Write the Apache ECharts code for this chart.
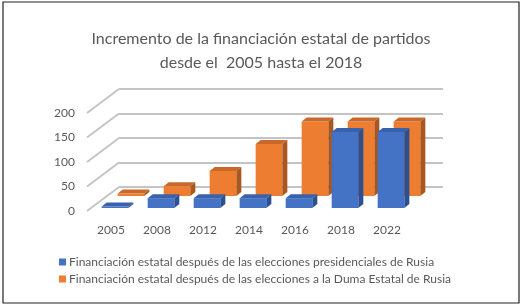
<!DOCTYPE html>
<html>
<head>
<meta charset="utf-8">
<script src="https://cdn.jsdelivr.net/npm/echarts@6/dist/echarts.min.js"></script>
<style>
  html, body { margin: 0; padding: 0; background: #fff; }
  #main { width: 522px; height: 307px; }
</style>
</head>
<body>
<div id="main"></div>
<script>
// datos
var years = ['2005', '2008', '2012', '2014', '2016', '2018', '2022'];
var presidenciales = [3, 20, 20, 20, 20, 155, 155];
var duma = [5, 20, 51, 106, 152, 152, 152];
var yTicks = [0, 50, 100, 150, 200];

var namePres = 'Financiación estatal después de las elecciones presidenciales de Rusia';
var nameDuma = 'Financiación estatal después de las elecciones a la Duma Estatal de Rusia';

var FONT = 'Lato';
var DEPTH = [31, -24];   // fondo de la pared
var BOX = [5, -4];       // profundidad de cada barra

// dibuja una barra "3d" (frente, techo, lateral)
function barRenderer(offset, front, top, side) {
  return function (params, api) {
    var idx = api.value(0);
    var val = api.value(1);
    var base = api.coord([idx, 0]);
    var peak = api.coord([idx, val]);
    var w = api.size([1, 0])[0] * 0.58;
    var x = base[0] - w / 2 + offset[0];
    var y1 = base[1] + offset[1];
    var y0 = peak[1] + offset[1];
    var dx = BOX[0], dy = BOX[1];
    return {
      type: 'group',
      children: [
        { type: 'rect', shape: { x: x, y: y0, width: w, height: y1 - y0 }, style: { fill: front } },
        { type: 'polygon', shape: { points: [[x, y0], [x + w, y0], [x + w + dx, y0 + dy], [x + dx, y0 + dy]] }, style: { fill: top } },
        { type: 'polygon', shape: { points: [[x + w, y0], [x + w + dx, y0 + dy], [x + w + dx, y1 + dy], [x + w, y1]] }, style: { fill: side } }
      ]
    };
  };
}

var chart = echarts.init(document.getElementById('main'));
chart.setOption({
  animation: false,
  textStyle: { fontFamily: FONT },
  title: {
    text: 'Incremento de la financiación estatal de partidos\ndesde el  2005 hasta el 2018',
    left: 'center',
    top: 22,
    textStyle: { fontFamily: FONT, fontSize: 16, fontWeight: 'normal', color: '#595959', lineHeight: 24 }
  },
  legend: {
    orient: 'vertical',
    left: 54,
    top: 251,
    icon: 'rect',
    itemWidth: 7,
    itemHeight: 7,
    itemGap: 5,
    data: [namePres, nameDuma],
    textStyle: { fontFamily: FONT, fontSize: 12, color: '#595959', padding: [0, 0, 0, -2] }
  },
  graphic: [{
    type: 'rect',
    shape: { x: 3, y: 2, width: 516, height: 301 },
    style: { fill: null, stroke: '#222', lineWidth: 1.2 },
    silent: true
  }],
  grid: [
    // plano frontal
    { left: 88, right: 112, top: 113, bottom: 96 },
    // pared del fondo
    { left: 88 + DEPTH[0], right: 79, top: 113 + DEPTH[1], bottom: 96 - DEPTH[1] }
  ],
  xAxis: [
    {
      gridIndex: 0, type: 'category', data: years,
      axisLine: { show: false }, axisTick: { show: false },
      axisLabel: { color: '#595959', fontSize: 12, margin: 13, fontFamily: FONT }
    },
    { gridIndex: 1, type: 'category', data: years, show: false }
  ],
  yAxis: [
    {
      gridIndex: 0, type: 'value', min: 0, max: 200, interval: 50,
      axisLine: { show: false }, axisTick: { show: false }, splitLine: { show: false },
      axisLabel: { color: '#595959', fontSize: 12, margin: 13, fontFamily: FONT }
    },
    {
      gridIndex: 1, type: 'value', min: 0, max: 200, interval: 50,
      axisLine: { show: false }, axisTick: { show: false }, axisLabel: { show: false },
      splitLine: { show: true, lineStyle: { color: '#c4c4c4', width: 2 } }
    }
  ],
  series: [
    {
      // lineas laterales de la pared izquierda
      type: 'custom', xAxisIndex: 0, yAxisIndex: 0, silent: true,
      data: yTicks.map(function (v) { return [0, v]; }),
      renderItem: function (params, api) {
        var y = api.coord([0, api.value(1)])[1];
        var x0 = params.coordSys.x - 1;
        return {
          type: 'line',
          shape: { x1: x0, y1: y, x2: x0 + DEPTH[0] + 1, y2: y + DEPTH[1] },
          style: { stroke: '#c4c4c4', lineWidth: 2 }
        };
      }
    },
    {
      name: nameDuma, type: 'custom', xAxisIndex: 0, yAxisIndex: 0,
      itemStyle: { color: '#ED7D31' },
      data: duma.map(function (v, i) { return [i, v]; }),
      renderItem: barRenderer([20, -15], '#ED7D31', '#C9682A', '#A9571F')
    },
    {
      name: namePres, type: 'custom', xAxisIndex: 0, yAxisIndex: 0,
      itemStyle: { color: '#4472C4' },
      data: presidenciales.map(function (v, i) { return [i, v]; }),
      renderItem: barRenderer([4, -3], '#4472C4', '#3A62AC', '#2C5192')
    }
  ]
});
</script>
</body>
</html>
